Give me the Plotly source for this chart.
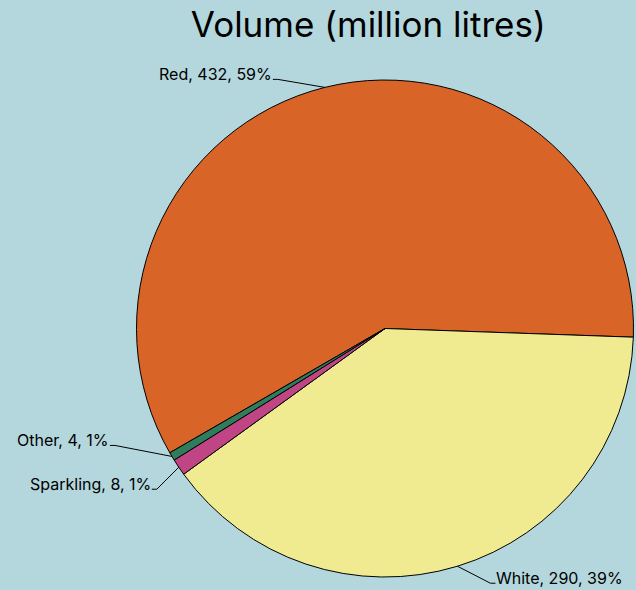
import math
import plotly.graph_objects as go

# Wine volume by type (million litres)
categories = ["Red", "White", "Sparkling", "Other"]
volumes = [432, 289.6, 8, 4]
slice_colors = ["#d86427", "#f0eb90", "#bf4584", "#2f7d5c"]

# Leader-line elbow offsets (px) from each slice's outer edge midpoint
elbow_dx = [-47, 33, -22, -57]
elbow_dy = [-8, 17, 22, -11]

bg = "#b3d7dd"
font_family = "Inter, Lato, sans-serif"

W, H = 636, 590
dom_x = [0.2146, 0.9961]
dom_y = [0.022, 0.8644]
rotation = 240

fig = go.Figure(
    go.Pie(
        labels=categories,
        values=volumes,
        sort=False,
        direction="clockwise",
        rotation=rotation,
        marker=dict(colors=slice_colors, line=dict(color="#000000", width=1)),
        textinfo="none",
        domain=dict(x=dom_x, y=dom_y),
        showlegend=False,
        hoverinfo="label+value+percent",
    )
)

# Pie geometry in pixels (top-left origin)
cx = (dom_x[0] + dom_x[1]) / 2 * W
cy = (1 - (dom_y[0] + dom_y[1]) / 2) * H
radius = min((dom_x[1] - dom_x[0]) * W, (dom_y[1] - dom_y[0]) * H) / 2


def to_paper(px, py):
    return px / W, 1 - py / H


total = sum(volumes)
cum = 0.0
shapes = []
annotations = []
for name, v, dx, dy in zip(categories, volumes, elbow_dx, elbow_dy):
    mid = math.radians(rotation + (cum + v / 2) / total * 360)
    cum += v
    ex = cx + radius * math.sin(mid)
    ey = cy - radius * math.cos(mid)
    bx, by = ex + dx, ey + dy
    side = 1 if dx > 0 else -1
    tx = bx + side * 5
    p0, p1, p2 = to_paper(ex, ey), to_paper(bx, by), to_paper(tx, by)
    shapes.append(
        dict(
            type="path",
            xref="paper",
            yref="paper",
            path=f"M {p0[0]},{p0[1]} L {p1[0]},{p1[1]} L {p2[0]},{p2[1]}",
            line=dict(color="#000000", width=1),
        )
    )
    lx, ly = to_paper(tx - side * 1, by - 5)
    annotations.append(
        dict(
            x=lx,
            y=ly,
            xref="paper",
            yref="paper",
            text=f"{name}, {v:.0f}, {v / total:.0%}",
            showarrow=False,
            xanchor="left" if side > 0 else "right",
            yanchor="middle",
            font=dict(family=font_family, size=16, color="#000000"),
        )
    )

fig.update_layout(
    width=W,
    height=H,
    paper_bgcolor=bg,
    plot_bgcolor=bg,
    margin=dict(l=0, r=0, t=0, b=0),
    shapes=shapes,
    annotations=annotations,
    title=dict(
        text="Volume (million litres)",
        x=0.579,
        xanchor="center",
        y=0.958,
        yanchor="middle",
        font=dict(family=font_family, size=35, color="#000000"),
    ),
)

fig.write_html("out.html")
